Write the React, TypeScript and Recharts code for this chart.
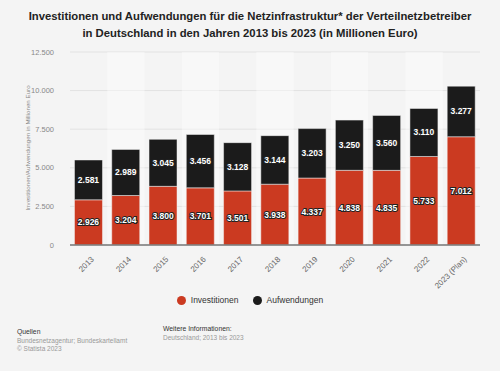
import React from 'react'
import { BarChart, Bar, XAxis, YAxis, CartesianGrid, LabelList, ReferenceArea } from 'recharts'

const years = ['2013', '2014', '2015', '2016', '2017', '2018', '2019', '2020', '2021', '2022', '2023 (Plan)']
const investitionen = [2926, 3204, 3800, 3701, 3501, 3938, 4337, 4838, 4835, 5733, 7012]
const aufwendungen = [2581, 2989, 3045, 3456, 3128, 3144, 3203, 3250, 3560, 3110, 3277]
const yTicks = [0, 2500, 5000, 7500, 10000, 12500]

const RED = '#cb3a21'
const BLACK = '#1b1b1b'
const FONT = '"Liberation Sans", Arial, sans-serif'

const data = years.map((year, i) => ({
  year,
  investitionen: investitionen[i],
  aufwendungen: aufwendungen[i]
}))

const fmt = (v: number) => v.toLocaleString('de-DE')

function XTick(props: any) {
  const { x, y, payload } = props
  return (
    <g transform={`translate(${x + 3},${y + 4})`}>
      <text transform="rotate(-45)" textAnchor="end" dy={4} fontSize={8} fill="#666" fontFamily={FONT}>
        {payload.value}
      </text>
    </g>
  )
}

function ValueLabel(props: any) {
  const { x, y, width, height, value } = props
  return (
    <text
      x={x + width / 2}
      y={y + height / 2}
      dy={3}
      textAnchor="middle"
      fontSize={8.5}
      fontWeight="bold"
      fontFamily={FONT}
      fill="#fff"
      stroke="#222"
      strokeWidth={2}
      paintOrder="stroke"
    >
      {fmt(value)}
    </text>
  )
}

export default function App() {
  return (
    <div style={{ position: 'absolute', left: 0, top: 0, width: 500, height: 371, background: '#f4f4f4', fontFamily: FONT }}>
      <div style={{ position: 'absolute', top: 8, width: 500, textAlign: 'center', fontWeight: 'bold', fontSize: 11.3, lineHeight: '17px', color: '#222' }}>
        Investitionen und Aufwendungen für die Netzinfrastruktur* der Verteilnetzbetreiber
        <br />
        in Deutschland in den Jahren 2013 bis 2023 (in Millionen Euro)
      </div>
      <div style={{ position: 'absolute', top: 0, left: 0 }}>
        <BarChart
          width={500}
          height={371}
          data={data}
          margin={{ top: 52, right: 20, left: 8, bottom: 86 }}
          barCategoryGap="12%"
        >
          {years.map((yr, i) =>
            i % 2 === 1 ? (
              <ReferenceArea key={yr} x1={yr} x2={yr} y1={0} y2={12500} fill="#ffffff" fillOpacity={0.4} stroke="none" />
            ) : null
          )}
          <CartesianGrid vertical={false} stroke="#e2e2e2" />
          <XAxis
            dataKey="year"
            height={40}
            tick={<XTick />}
            tickLine={false}
            axisLine={{ stroke: '#777', strokeWidth: 1.5 }}
            interval={0}
          />
          <YAxis
            width={62}
            domain={[0, 12500]}
            ticks={yTicks}
            tickFormatter={fmt}
            tick={{ fontSize: 7.5, fill: '#888', fontFamily: FONT }}
            tickLine={false}
            axisLine={false}
            tickMargin={10}
          />
          <Bar dataKey="investitionen" stackId="a" fill={RED} stroke="#f4f4f4" strokeWidth={0.5} isAnimationActive={false}>
            <LabelList dataKey="investitionen" content={<ValueLabel />} />
          </Bar>
          <Bar dataKey="aufwendungen" stackId="a" fill={BLACK} stroke="#f4f4f4" strokeWidth={0.5} isAnimationActive={false}>
            <LabelList dataKey="aufwendungen" content={<ValueLabel />} />
          </Bar>
        </BarChart>
      </div>
      <div style={{ position: 'absolute', left: 27, top: 148, width: 0, height: 0 }}>
        <div style={{ position: 'absolute', transform: 'translate(-50%, -50%) rotate(-90deg)', whiteSpace: 'nowrap', fontSize: 6.2, color: '#888' }}>
          Investitionen/Aufwendungen in Millionen Euro
        </div>
      </div>
      <div style={{ position: 'absolute', top: 295, left: 0, width: 500, display: 'flex', justifyContent: 'center', fontSize: 8.5, color: '#333' }}>
        <span style={{ display: 'flex', alignItems: 'center', marginRight: 14 }}>
          <span style={{ width: 9, height: 9, borderRadius: '50%', background: RED, marginRight: 5 }} />
          Investitionen
        </span>
        <span style={{ display: 'flex', alignItems: 'center' }}>
          <span style={{ width: 9, height: 9, borderRadius: '50%', background: BLACK, marginRight: 5 }} />
          Aufwendungen
        </span>
      </div>
      <div style={{ position: 'absolute', left: 17, top: 328, fontSize: 6.5, lineHeight: '8.5px', color: '#999' }}>
        <div style={{ color: '#333', fontSize: 6.8 }}>Quellen</div>
        <div>Bundesnetzagentur; Bundeskartellamt</div>
        <div>© Statista 2023</div>
      </div>
      <div style={{ position: 'absolute', left: 163, top: 325, fontSize: 6.5, lineHeight: '8.5px', color: '#999' }}>
        <div style={{ color: '#333', fontSize: 6.8 }}>Weitere Informationen:</div>
        <div>Deutschland; 2013 bis 2023</div>
      </div>
    </div>
  )
}
